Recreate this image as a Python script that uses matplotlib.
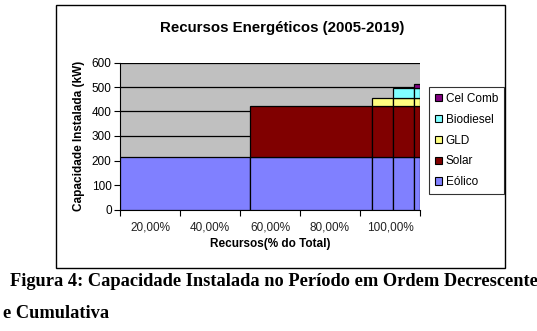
import matplotlib
matplotlib.use("Agg")
import matplotlib.pyplot as plt
from matplotlib.patches import Patch, Rectangle

recursos = ['Eólico', 'Solar', 'GLD', 'Biodiesel', 'Cel Comb']
cores = ['#8080FF', '#800000', '#FFFF80', '#80FFFF', '#800080']
# inicio de cada recurso no eixo x (%) e capacidade acumulada (kW)
inicio = [10.0, 53.3, 94.0, 101.0, 108.0]
fim_total = 110.0
acumulado = [215, 421, 457, 497, 512]
xticks_lbl = [20, 40, 60, 80, 100]

plt.rcParams['font.family'] = ['Liberation Sans', 'DejaVu Sans']

fig = plt.figure(figsize=(5.37, 3.31), dpi=100)
W, H = 537.0, 331.0
ax = fig.add_axes([120 / W, 1 - 209.5 / H, 300 / W, 147 / H])
ax.set_facecolor('#C0C0C0')

# segmentos: cada recurso forma degraus empilhados
bordas = inicio + [fim_total]
for j in range(len(inicio)):
    x0, x1 = bordas[j], bordas[j + 1]
    base = 0
    for k in range(j + 1):
        ax.bar(x0, acumulado[k] - base, width=x1 - x0, bottom=base, align='edge',
               color=cores[k], edgecolor='black', linewidth=0.9, zorder=3)
        base = acumulado[k]

ax.set_xlim(10, 110)
ax.set_ylim(0, 600)
ax.set_yticks(range(0, 601, 100))
ax.yaxis.grid(True, color='black', linewidth=0.9, zorder=0)
ax.set_axisbelow(True)
ax.set_xticks([10, 30, 50, 70, 90, 110])
ax.set_xticklabels([])
ax.set_xticks(xticks_lbl, minor=True)
ax.set_xticklabels(['%d,00%%' % v for v in xticks_lbl], minor=True)
ax.tick_params(axis='x', which='minor', length=0, pad=9, labelsize=8.5, colors='#222222')
ax.tick_params(axis='x', which='major', length=4, width=0.8, direction='out')
ax.tick_params(axis='y', length=4, width=0.8, labelsize=8.5, pad=2)
for s in ['top', 'right']:
    ax.spines[s].set_visible(False)
ax.spines['left'].set_linewidth(0.8)
ax.spines['bottom'].set_linewidth(0.8)

ax.set_title('Recursos Energéticos (2005-2019)', fontsize=10.8, fontweight='bold', pad=22, x=0.54)
ax.set_xlabel('Recursos(% do Total)', fontsize=8.5, fontweight='bold', labelpad=3)
ax.set_ylabel('Capacidade Instalada (kW)', fontsize=8.5, fontweight='bold', labelpad=5)

handles = [Patch(facecolor=cores[i], edgecolor='black', linewidth=0.8, label=recursos[i])
           for i in range(len(recursos) - 1, -1, -1)]
leg = fig.legend(handles=handles, loc='upper left', bbox_to_anchor=(429 / W, 1 - 87 / H),
                 fontsize=8.5, frameon=True, fancybox=False, edgecolor='black',
                 handlelength=0.6, handleheight=0.6, handletextpad=0.3,
                 labelspacing=0.75, borderpad=0.5, borderaxespad=0)
leg.get_frame().set_linewidth(0.8)

# moldura do grafico
fig.patches.append(Rectangle((56 / W, 1 - 268 / H), 449 / W, 263 / H, transform=fig.transFigure,
                             fill=False, edgecolor='black', linewidth=1.0))

fig.text(10 / W, 1 - 282 / H, 'Figura 4: Capacidade Instalada no Período em Ordem Decrescente',
         family=['Liberation Serif', 'DejaVu Serif'], fontweight='bold', fontsize=13.2, va='center')
fig.text(3 / W, 1 - 313 / H, 'e Cumulativa',
         family=['Liberation Serif', 'DejaVu Serif'], fontweight='bold', fontsize=13.2, va='center')

fig.savefig('out.png', dpi=100)
